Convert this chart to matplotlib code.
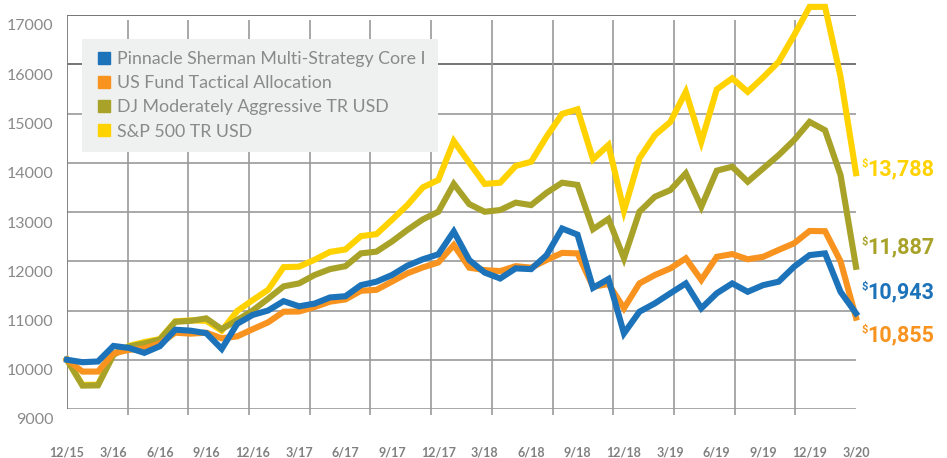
"""Growth of $10,000: Pinnacle Sherman Multi-Strategy Core I vs benchmarks, 12/15 - 3/20."""

import matplotlib
matplotlib.use("Agg")
import matplotlib.pyplot as plt
from matplotlib.lines import Line2D
from matplotlib.transforms import ScaledTranslation

# quarter-end labels on the x axis (monthly data, one label every 3 months)
quarter_labels = [
    "12/15", "3/16", "6/16", "9/16", "12/16", "3/17", "6/17", "9/17", "12/17",
    "3/18", "6/18", "9/18", "12/18", "3/19", "6/19", "9/19", "12/19", "3/20",
]
y_ticks = [9000, 10000, 11000, 12000, 13000, 14000, 15000, 16000, 17000]

names = [
    "Pinnacle Sherman Multi-Strategy Core I",
    "US Fund Tactical Allocation",
    "DJ Moderately Aggressive TR USD",
    "S&P 500 TR USD",
]

# monthly values, 12/15 .. 3/20
pinnacle = [
    10000, 9950, 9965, 10280, 10240, 10140, 10275, 10610, 10590, 10540,
    10220, 10730, 10910, 11000, 11190, 11085, 11140, 11265, 11290, 11515,
    11585, 11720, 11910, 12040, 12140, 12605, 12025, 11770, 11650, 11855,
    11840, 12125, 12665, 12540, 11460, 11640, 10535, 10975, 11145, 11350,
    11550, 11045, 11350, 11550, 11380, 11515, 11585, 11890, 12125, 12160,
    11380, 10943,
]
us_fund = [
    10000, 9760, 9760, 10130, 10200, 10230, 10330, 10550, 10530, 10550,
    10435, 10475, 10620, 10760, 10975, 10980, 11070, 11180, 11225, 11400,
    11420, 11585, 11755, 11875, 11975, 12330, 11870, 11820, 11800, 11900,
    11870, 12025, 12170, 12160, 11480, 11540, 11045, 11550, 11720, 11855,
    12060, 11620, 12090, 12145, 12040, 12090, 12230, 12365, 12615, 12610,
    12000, 10855,
]
dj_mod_agg = [
    10000, 9475, 9480, 10100, 10270, 10330, 10410, 10770, 10790, 10840,
    10620, 10805, 11000, 11240, 11490, 11550, 11720, 11840, 11900, 12160,
    12195, 12400, 12635, 12850, 13005, 13570, 13160, 13005, 13040, 13190,
    13140, 13390, 13595, 13550, 12650, 12860, 12060, 13005, 13310, 13445,
    13785, 13105, 13840, 13920, 13615, 13885, 14155, 14460, 14830, 14660,
    13750, 11887,
]
sp500 = [
    10000, 9490, 9495, 10110, 10280, 10360, 10420, 10780, 10800, 10790,
    10590, 10990, 11210, 11420, 11880, 11890, 12030, 12190, 12240, 12510,
    12550, 12840, 13140, 13500, 13650, 14440, 14000, 13570, 13595, 13935,
    14020, 14530, 14990, 15085, 14070, 14360, 13025, 14090, 14560, 14830,
    15440, 14425, 15490, 15715, 15440, 15735, 16050, 16590, 17165, 17165,
    15750, 13788,
]

COLORS = ["#1c73b9", "#f7931e", "#a8a229", "#ffd200"]
GREY = "#8a8a8a"
# vertical offset (points) of each end-value label baseline from the line end
LABEL_DY = [10.9, -16.8, 9.8, -1.3]

fig = plt.figure(figsize=(9.47, 4.58), dpi=100)
ax = fig.add_axes([67 / 947, 49 / 458, 789 / 947, 394 / 458])

series = [pinnacle, us_fund, dj_mod_agg, sp500]
n = len(pinnacle)
x = list(range(n))

# grid: horizontal lines at each 1000, 13 evenly spaced vertical lines
for v in y_ticks:
    c = "#5e5e5e" if v >= 16000 else "#9a9a9a"
    ax.axhline(v, color=c, lw=1.2, zorder=1)
ax.vlines(0, 9000, 17000, color="#7a7a7a", lw=1.3, zorder=1)
for i in range(1, 13):
    xv = (n - 1) * i / 13
    ax.vlines(xv, 8880, 16900, color="#9a9a9a", lw=1.2, zorder=1, clip_on=False)

# draw back to front: S&P, DJ, US Fund, Pinnacle
for i in reversed(range(4)):
    ax.plot(x, series[i], color=COLORS[i], lw=4.4, zorder=3 + (3 - i),
            solid_joinstyle="miter", clip_on=False)

for i in range(4):
    last = series[i][-1]
    ax.annotate(f"{last:,}", xy=(n - 1, last), xytext=(8.4, LABEL_DY[i]),
                textcoords="offset points", ha="left", va="baseline",
                color=COLORS[i], fontsize=15.5, fontweight="bold",
                family="Roboto", annotation_clip=False)
    ax.annotate("$", xy=(n - 1, last), xytext=(4.0, LABEL_DY[i] + 5.8),
                textcoords="offset points", ha="left", va="baseline",
                color=COLORS[i], fontsize=8, fontweight="bold",
                family="Roboto", annotation_clip=False)

ax.set_xlim(0, n - 1)
ax.set_ylim(9000, 17000)
for s in ax.spines.values():
    s.set_visible(False)

ax.set_xticks(range(0, n, 3))
ax.set_xticklabels(quarter_labels, fontsize=9, fontweight="bold", color="#808080",
                   family="Lato")
ax.set_yticks(y_ticks)
ax.set_yticklabels([str(v) for v in y_ticks], fontsize=11.5, color=GREY,
                   family="Lato")
ax.tick_params(axis="x", length=0, pad=27)
ax.tick_params(axis="y", length=0, pad=9.5)
shift = ScaledTranslation(0, -10 / 100, fig.dpi_scale_trans)
for lab in ax.get_yticklabels():
    lab.set_transform(lab.get_transform() + shift)

handles = [Line2D([], [], marker="s", linestyle="", markersize=8.8, color=c)
           for c in COLORS]
leg = ax.legend(handles, names, loc="upper left",
                bbox_to_anchor=(82 / 947, 1 - 39 / 458),
                bbox_transform=fig.transFigure, borderaxespad=0,
                prop={"family": "Lato", "size": 12.8}, labelcolor=GREY,
                frameon=True, fancybox=False, framealpha=1,
                facecolor="#eff0f0", edgecolor="none",
                borderpad=0.68, handlelength=1.17, handletextpad=0.12,
                labelspacing=0.46)
leg.set_zorder(10)

fig.savefig("out.png", dpi=100)
